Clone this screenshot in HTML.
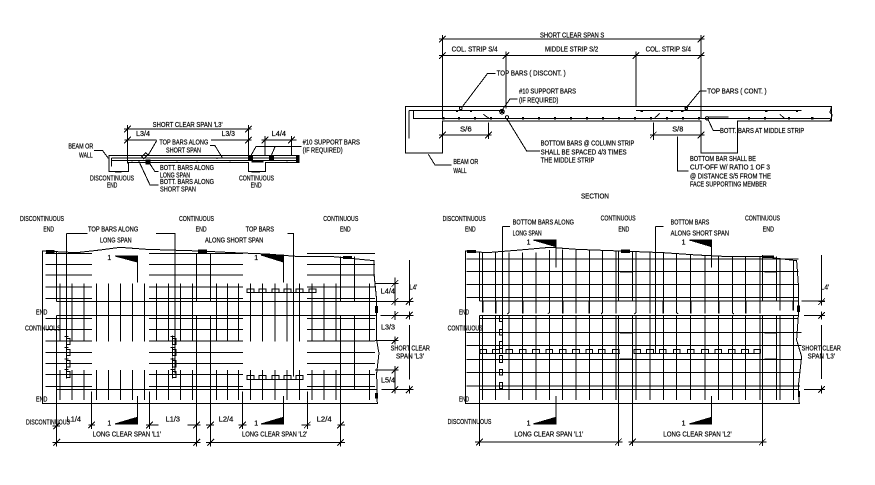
<!DOCTYPE html>
<html><head><meta charset="utf-8"><style>
html,body{margin:0;padding:0;background:#fff;width:875px;height:485px;overflow:hidden}
svg{display:block}
path,polyline,rect,circle{fill:none;stroke:#000;stroke-width:3}
.f{fill:#000}
text{font-family:"Liberation Sans",sans-serif;font-size:21px;fill:#000;stroke:#000;stroke-width:.6}
</style></head><body>
<svg width="875" height="485" viewBox="0 0 875 485" xmlns="http://www.w3.org/2000/svg" shape-rendering="crispEdges">
<defs>
<path id="r" d="M137 0H276M447 0H729M921 0H1125"/>
<path id="bx" d="M0 -6H21V5H0Z"/>
<path id="by" d="M0 0H10V19H0ZM0 -9V22M-6 -5H6"/>
<path id="t" d="M-10 10L10 -10M-10 0H10M0 -12V12"/>
</defs>

<!-- SMALL BEAM -->
<g transform="translate(0,120) scale(.3333)">
<path d="M372 27H755M375 60H470M633 60H755M785 60H890"/>
<path d="M383 27V130M745 27V108M795 60V108M875 60V106"/>
<path d="M327 106H897V128H797V155H745V128H385V155H327Z"/>
<path d="M335 114H890M335 122H890M335 114V140M470 62L445 105M630 77H645L668 115M752 108L768 80H905M812 112L825 80M282 92H308L325 115M445 124L465 155H475M415 120L450 195H475"/>
<path d="M755 125H790M345 156H365M755 155H780" style="stroke-width:4"/>
<path class="f" d="M438 120h12v12h-12zM745 107h12v12h-12zM808 107h12v12h-12zM889 106h8v22h-8z"/>
<path d="M395 123h3M440 123h3M530 123h3M590 123h3M650 115h3M688 123h3M860 123h3M425 110L437 98L443 104L431 116Z"/>
<use href="#t" x="383" y="27"/><use href="#t" x="745" y="27"/><use href="#t" x="383" y="60"/><use href="#t" x="745" y="60"/><use href="#t" x="795" y="60"/><use href="#t" x="875" y="60"/>
<text x="458" y="21" textLength="210" lengthAdjust="spacingAndGlyphs">SHORT CLEAR SPAN 'L3'</text>
<text x="408" y="48" textLength="42" lengthAdjust="spacingAndGlyphs">L3/4</text>
<text x="665" y="48" textLength="40" lengthAdjust="spacingAndGlyphs">L3/3</text>
<text x="815" y="48" textLength="43" lengthAdjust="spacingAndGlyphs">L4/4</text>
<text x="205" y="86" textLength="75" lengthAdjust="spacingAndGlyphs">BEAM OR</text>
<text x="237" y="112" textLength="41" lengthAdjust="spacingAndGlyphs">WALL</text>
<text x="478" y="73" textLength="147" lengthAdjust="spacingAndGlyphs">TOP BARS ALONG</text>
<text x="498" y="98" textLength="105" lengthAdjust="spacingAndGlyphs">SHORT SPAN</text>
<text x="908" y="73" textLength="172" lengthAdjust="spacingAndGlyphs">#10 SUPPORT BARS</text>
<text x="908" y="98" textLength="120" lengthAdjust="spacingAndGlyphs">(IF REQUIRED)</text>
<text x="480" y="150" textLength="162" lengthAdjust="spacingAndGlyphs">BOTT. BARS ALONG</text>
<text x="480" y="172" textLength="90" lengthAdjust="spacingAndGlyphs">LONG SPAN</text>
<text x="480" y="192" textLength="162" lengthAdjust="spacingAndGlyphs">BOTT. BARS ALONG</text>
<text x="480" y="215" textLength="108" lengthAdjust="spacingAndGlyphs">SHORT SPAN</text>
<text x="270" y="181" textLength="132" lengthAdjust="spacingAndGlyphs">DISCONTINUOUS</text>
<text x="321" y="203" textLength="31" lengthAdjust="spacingAndGlyphs">END</text>
<text x="717" y="181" textLength="105" lengthAdjust="spacingAndGlyphs">CONTINUOUS</text>
<text x="752" y="203" textLength="33" lengthAdjust="spacingAndGlyphs">END</text>
</g>

<!-- SECTION -->
<g transform="translate(395,25) scale(.3333)">
<path d="M133 42H927M133 92H927M142 42V280M918 42V280M333 92V250M723 92V245"/>
<path d="M32 244H1310V288H1027V384H918V288H142V384H32Z"/>
<path d="M1310 244L1305 262L1312 270L1305 288"/>
<path d="M42 256H320M723 256H1220M42 256V340M55 258V280H1305"/>
<path d="M940 276H1000" style="stroke-width:4"/>
<path d="M302 145H278L200 248M368 222H345L323 253M935 198H915L870 253M335 280L395 378H435M100 388L120 420H170M940 285L955 317H975M142 292V340M280 292V340M133 330H290M775 292V345M768 330H927M918 320V340M848 335V438H880"/>
<path d="M265 268L282 280M780 278L795 265M1155 268L1168 280"/>
<path class="f" d="M143 278h4v4h-4zM190 278h4v4h-4zM238 278h4v4h-4zM286 278h4v4h-4zM382 278h4v4h-4zM430 278h4v4h-4zM478 278h4v4h-4zM526 278h4v4h-4zM574 278h4v4h-4zM622 278h4v4h-4zM670 278h4v4h-4zM718 278h4v4h-4zM766 278h4v4h-4zM814 278h4v4h-4zM862 278h4v4h-4zM910 278h4v4h-4zM1060 278h4v4h-4zM1108 278h4v4h-4zM1180 278h4v4h-4zM1250 278h4v4h-4zM184 256h4v4h-4zM226 256h4v4h-4zM738 256h4v4h-4zM828 256h4v4h-4zM860 256h4v4h-4zM1112 256h4v4h-4zM1204 256h4v4h-4z"/>
<circle cx="321" cy="260" r="7"/><circle cx="336" cy="277" r="5"/><circle cx="936" cy="280" r="5"/><circle cx="197" cy="250" r="4"/><circle cx="874" cy="250" r="4"/>
<path class="f" d="M318 257h6v6h-6z"/>
<use href="#t" x="142" y="42"/><use href="#t" x="918" y="42"/><use href="#t" x="142" y="92"/><use href="#t" x="333" y="92"/><use href="#t" x="723" y="92"/><use href="#t" x="918" y="92"/><use href="#t" x="142" y="330"/><use href="#t" x="280" y="330"/><use href="#t" x="775" y="330"/><use href="#t" x="918" y="330"/>
<text x="435" y="37" textLength="193" lengthAdjust="spacingAndGlyphs">SHORT CLEAR SPAN S</text>
<text x="170" y="80" textLength="138" lengthAdjust="spacingAndGlyphs">COL. STRIP S/4</text>
<text x="450" y="80" textLength="160" lengthAdjust="spacingAndGlyphs">MIDDLE STRIP S/2</text>
<text x="752" y="80" textLength="136" lengthAdjust="spacingAndGlyphs">COL. STRIP S/4</text>
<text x="305" y="152" textLength="207" lengthAdjust="spacingAndGlyphs">TOP BARS ( DISCONT. )</text>
<text x="372" y="205" textLength="171" lengthAdjust="spacingAndGlyphs">#10 SUPPORT BARS</text>
<text x="372" y="232" textLength="118" lengthAdjust="spacingAndGlyphs">(IF REQUIRED)</text>
<text x="937" y="205" textLength="178" lengthAdjust="spacingAndGlyphs">TOP BARS ( CONT. )</text>
<text x="195" y="320" textLength="35" lengthAdjust="spacingAndGlyphs">S/6</text>
<text x="832" y="320" textLength="33" lengthAdjust="spacingAndGlyphs">S/8</text>
<text x="975" y="324" textLength="253" lengthAdjust="spacingAndGlyphs">BOTT. BARS AT MIDDLE STRIP</text>
<text x="437" y="362" textLength="281" lengthAdjust="spacingAndGlyphs">BOTTOM BARS @ COLUMN STRIP</text>
<text x="437" y="388" textLength="258" lengthAdjust="spacingAndGlyphs">SHALL BE SPACED 4/3 TIMES</text>
<text x="437" y="412" textLength="161" lengthAdjust="spacingAndGlyphs">THE MIDDLE STRIP</text>
<text x="175" y="417" textLength="75" lengthAdjust="spacingAndGlyphs">BEAM OR</text>
<text x="175" y="444" textLength="40" lengthAdjust="spacingAndGlyphs">WALL</text>
<text x="885" y="408" textLength="198" lengthAdjust="spacingAndGlyphs">BOTTOM BAR SHALL BE</text>
<text x="885" y="433" textLength="240" lengthAdjust="spacingAndGlyphs">CUT-OFF W/ RATIO 1 OF 3</text>
<text x="885" y="460" textLength="243" lengthAdjust="spacingAndGlyphs">@ DISTANCE S/5 FROM THE</text>
<text x="885" y="485" textLength="230" lengthAdjust="spacingAndGlyphs">FACE SUPPORTING MEMBER</text>
<text x="558" y="520" textLength="84" lengthAdjust="spacingAndGlyphs">SECTION</text>
</g>

<!-- PLAN A -->
<g transform="translate(0,240) scale(.3333)">
<path d="M127 33L230 38L300 30L360 22L440 28L600 33L700 38L800 42L900 50L1000 50L1122 62V100L1130 180V300L1137 340L1130 400L1132 491H127Z"/>
<use href="#r" y="40"/><use href="#r" y="73"/><use href="#r" y="105"/><use href="#r" y="141"/><use href="#r" y="175"/><use href="#r" y="235"/><use href="#r" y="268"/><use href="#r" y="303"/><use href="#r" y="337"/><use href="#r" y="370"/><use href="#r" y="404"/><use href="#r" y="440"/>
<path d="M170 184H1130M170 226H1130M170 449H1130"/>
<path d="M170 35V184M170 226V612M590 40V184M590 226V612M632 40V184M632 226V612M1022 50V184M1022 226V612M1063 50V184M1063 226V449"/>
<path d="M180 130V305M180 390V480M216 130V305M216 390V480M252 130V305M252 390V480M289 130V305M289 390V480M325 130V305M325 390V480M361 130V305M361 390V480M397 130V305M397 390V480M433 130V305M433 390V480M469 130V305M469 390V480M505 130V305M505 390V480M541 130V305M541 390V480M577 130V305M577 390V480M650 130V305M650 390V480M682 130V305M682 390V480M716 130V305M716 390V480M752 130V305M752 390V480M788 130V305M788 390V480M825 130V305M825 390V480M861 130V305M861 390V480M898 130V305M898 390V480M936 130V305M936 390V480M972 130V305M972 390V480M1008 130V305M1008 390V480M1108 130V305M1108 390V480"/>
<path d="M200 -19H262M200 -19V405M468 -19H525V400M862 -19H880V410"/>
<path d="M412 66V128M850 66V128M412 468V552M850 468V552M275 455V560M448 455V560M728 455V560M922 455V560"/>
<path class="f" d="M345 48H412V66ZM783 45H850V66ZM345 552H412V532ZM783 552H850V532Z"/>
<path d="M742 158H947"/><use href="#bx" x="741" y="153"/><use href="#bx" x="777" y="153"/><use href="#bx" x="816" y="153"/><use href="#bx" x="852" y="153"/><use href="#bx" x="888" y="153"/><use href="#bx" x="927" y="153"/>
<path d="M742 418H911"/><use href="#bx" x="741" y="413"/><use href="#bx" x="777" y="413"/><use href="#bx" x="816" y="413"/><use href="#bx" x="852" y="413"/><use href="#bx" x="888" y="413"/>
<use href="#by" x="200" y="295"/><use href="#by" x="200" y="328"/><use href="#by" x="200" y="362"/><use href="#by" x="200" y="394"/>
<use href="#by" x="518" y="295"/><use href="#by" x="518" y="328"/><use href="#by" x="518" y="362"/><use href="#by" x="518" y="394"/>
<path d="M158 607H602M618 607H1035M158 558H180M265 555H285M440 555H475M562 555H602M618 555H635M715 555H740M905 555H930M1012 555H1035"/>
<use href="#t" x="170" y="607"/><use href="#t" x="590" y="607"/><use href="#t" x="632" y="607"/><use href="#t" x="1022" y="607"/><use href="#t" x="170" y="558"/><use href="#t" x="275" y="555"/><use href="#t" x="448" y="555"/><use href="#t" x="590" y="555"/><use href="#t" x="632" y="555"/><use href="#t" x="728" y="555"/><use href="#t" x="922" y="555"/><use href="#t" x="1022" y="555"/>
<path d="M1228 60V183M1228 255V418M1125 130H1195M1125 184H1240M1142 226H1240M1125 302H1195M1125 390H1195M1145 449H1240M1185 112V195M1185 213V240M1185 295V310M1185 380V460"/>
<use href="#t" x="1185" y="130"/><use href="#t" x="1185" y="184"/><use href="#t" x="1185" y="226"/><use href="#t" x="1185" y="302"/><use href="#t" x="1185" y="390"/><use href="#t" x="1185" y="449"/><use href="#t" x="1228" y="184"/><use href="#t" x="1228" y="226"/><use href="#t" x="1228" y="449"/>
<path class="f" d="M140 32h22v6h-22zM596 30h24v8h-24zM1030 50h24v5h-24zM1127 200h6v18h-6zM1127 460h6v14h-6z"/>
<text x="60" y="-57" textLength="132" lengthAdjust="spacingAndGlyphs">DISCONTINUOUS</text>
<text x="130" y="-25" textLength="32" lengthAdjust="spacingAndGlyphs">END</text>
<text x="537" y="-57" textLength="105" lengthAdjust="spacingAndGlyphs">CONTINUOUS</text>
<text x="587" y="-25" textLength="33" lengthAdjust="spacingAndGlyphs">END</text>
<text x="970" y="-57" textLength="105" lengthAdjust="spacingAndGlyphs">CONTINUOUS</text>
<text x="1020" y="-25" textLength="32" lengthAdjust="spacingAndGlyphs">END</text>
<text x="264" y="-25" textLength="151" lengthAdjust="spacingAndGlyphs">TOP BARS ALONG</text>
<text x="300" y="7" textLength="95" lengthAdjust="spacingAndGlyphs">LONG SPAN</text>
<text x="737" y="-25" textLength="85" lengthAdjust="spacingAndGlyphs">TOP BARS</text>
<text x="615" y="7" textLength="175" lengthAdjust="spacingAndGlyphs">ALONG SHORT SPAN</text>
<text x="322" y="60">1</text><text x="763" y="60">1</text><text x="322" y="556">1</text><text x="763" y="556">1</text>
<text x="108" y="224" textLength="34" lengthAdjust="spacingAndGlyphs">END</text>
<text x="75" y="271" textLength="107" lengthAdjust="spacingAndGlyphs">CONTINUOUS</text>
<text x="108" y="484" textLength="34" lengthAdjust="spacingAndGlyphs">END</text>
<text x="78" y="553" textLength="132" lengthAdjust="spacingAndGlyphs">DISCONTINUOUS</text>
<text x="1142" y="160" textLength="43" lengthAdjust="spacingAndGlyphs">L4/4</text>
<text x="1143" y="268" textLength="42" lengthAdjust="spacingAndGlyphs">L3/3</text>
<text x="1143" y="427" textLength="42" lengthAdjust="spacingAndGlyphs">L5/4</text>
<text x="1228" y="148" textLength="24" lengthAdjust="spacingAndGlyphs">L4'</text>
<text x="1172" y="332" textLength="118" lengthAdjust="spacingAndGlyphs">SHORT CLEAR</text>
<text x="1188" y="356" textLength="84" lengthAdjust="spacingAndGlyphs">SPAN 'L3'</text>
<text x="200" y="545" textLength="43" lengthAdjust="spacingAndGlyphs">L1/4</text>
<text x="497" y="545" textLength="43" lengthAdjust="spacingAndGlyphs">L1/3</text>
<text x="656" y="545" textLength="44" lengthAdjust="spacingAndGlyphs">L2/4</text>
<text x="950" y="545" textLength="45" lengthAdjust="spacingAndGlyphs">L2/4</text>
<text x="278" y="590" textLength="205" lengthAdjust="spacingAndGlyphs">LONG CLEAR SPAN 'L1'</text>
<text x="726" y="590" textLength="196" lengthAdjust="spacingAndGlyphs">LONG CLEAR SPAN 'L2'</text>
</g>

<!-- PLAN B -->
<g transform="translate(430,240) scale(.3333)">
<path d="M106 33L170 38L270 30L360 22L440 28L570 33L700 38L800 45L900 50L1000 50L1100 62L1105 130V230L1100 300L1115 350L1105 440L1108 490H106Z"/>
<path d="M110 57H1105M110 95H1105M110 133H1105M110 173H1105M148 183H1105M148 226H1105M148 236H1105M110 278H1115M110 317H1115M110 358H1115M110 398H1110M110 438H1110M148 449H1105"/>
<path d="M148 35V183M148 226V612M565 35V183M565 226V612M608 35V183M608 226V612M997 45V183M997 226V612M1040 50V183M1040 226V480"/>
<path d="M158 38V183M197 38V183M237 38V183M278 38V183M318 38V183M358 30V183M398 28V183M438 30V183M478 32V183M518 33V183M558 33V183M618 36V183M660 37V183M700 38V183M740 40V183M782 42V183M825 45V183M866 47V183M907 50V183M947 50V183M990 50V183M1050 55V183M1090 60V183M158 226V480M197 226V480M237 226V480M278 226V480M318 226V480M358 226V480M398 226V480M438 226V480M478 226V480M518 226V480M558 226V480M618 226V480M660 226V480M700 226V480M740 226V480M782 226V480M825 226V480M866 226V480M907 226V480M947 226V480M990 226V480M1050 226V480M1090 226V480"/>
<path d="M217 -40H240M217 -40V340M677 -40H700M677 -40V340"/>
<path style="stroke-width:4" d="M158 185V218M197 185V220M278 185V220M318 185V220M398 185V220M438 185V220M478 185V220M558 185V220M660 185V220M700 185V220M782 185V220M825 185V220M866 185V220M947 185V220M990 185V220M1050 185V212M1090 185V212M570 95H606M570 278H606M570 358H606M570 438H606M1003 95H1040M1003 278H1040M1003 358H1040M1003 438H1040"/>
<path d="M237 185V218L232 222M358 185V218L353 222M518 185V218L513 222M618 185V218L613 222M740 185V218L745 222M907 185V218L912 222"/>
<path d="M150 340H570M610 340H992"/>
<path d="M150 340V328H170V340M188 340V328H208V340M228 340V328H248V340M268 340V328H288V340M308 340V328H328V340M348 340V328H368V340M388 340V328H408V340M428 340V328H448V340M468 340V328H488V340M505 340V328H525V340M547 340V328H567V340M612 340V328H632V340M650 340V328H670V340M688 340V328H708V340M730 340V328H750V340M772 340V328H792V340M815 340V328H835V340M855 340V328H875V340M895 340V328H915V340M935 340V328H955V340M972 340V328H992V340"/>
<path d="M208 226H218V245H208ZM208 268H218V285H208ZM208 305H218V325H208ZM208 347H218V367H208ZM208 388H218V405H208ZM208 427H218V445H208Z"/>
<path d="M378 20V83M845 20V83M378 468V552M845 468V552"/>
<path class="f" d="M310 0H378V20ZM778 0H845V20ZM310 552H378V532ZM778 552H845V532Z"/>
<path d="M135 606H578M595 606H1010M1175 45V183M1175 255V417M1115 183H1185M1122 226H1185M1122 448H1185"/>
<use href="#t" x="148" y="606"/><use href="#t" x="565" y="606"/><use href="#t" x="608" y="606"/><use href="#t" x="997" y="606"/><use href="#t" x="1175" y="185"/><use href="#t" x="1175" y="226"/><use href="#t" x="1175" y="448"/>
<path class="f" d="M112 32h24v5h-24zM574 30h24v8h-24zM1000 48h30v5h-30zM1102 198h6v16h-6zM1105 455h4v15h-4z"/>
<text x="38" y="-57" textLength="129" lengthAdjust="spacingAndGlyphs">DISCONTINUOUS</text>
<text x="105" y="-25" textLength="32" lengthAdjust="spacingAndGlyphs">END</text>
<text x="248" y="-47" textLength="184" lengthAdjust="spacingAndGlyphs">BOTTOM BARS ALONG</text>
<text x="248" y="-13" textLength="87" lengthAdjust="spacingAndGlyphs">LONG SPAN</text>
<text x="512" y="-58" textLength="105" lengthAdjust="spacingAndGlyphs">CONTINUOUS</text>
<text x="565" y="-25" textLength="33" lengthAdjust="spacingAndGlyphs">END</text>
<text x="722" y="-47" textLength="116" lengthAdjust="spacingAndGlyphs">BOTTOM BARS</text>
<text x="722" y="-13" textLength="175" lengthAdjust="spacingAndGlyphs">ALONG SHORT SPAN</text>
<text x="945" y="-58" textLength="105" lengthAdjust="spacingAndGlyphs">CONTINUOUS</text>
<text x="998" y="-25" textLength="34" lengthAdjust="spacingAndGlyphs">END</text>
<text x="290" y="14">1</text><text x="755" y="14">1</text><text x="290" y="556">1</text><text x="755" y="556">1</text>
<text x="87" y="224" textLength="30" lengthAdjust="spacingAndGlyphs">END</text>
<text x="53" y="271" textLength="105" lengthAdjust="spacingAndGlyphs">CONTINUOUS</text>
<text x="87" y="484" textLength="30" lengthAdjust="spacingAndGlyphs">END</text>
<text x="53" y="552" textLength="131" lengthAdjust="spacingAndGlyphs">DISCONTINUOUS</text>
<text x="253" y="590" textLength="207" lengthAdjust="spacingAndGlyphs">LONG CLEAR SPAN 'L1'</text>
<text x="700" y="590" textLength="205" lengthAdjust="spacingAndGlyphs">LONG CLEAR SPAN 'L2'</text>
<text x="1172" y="148" textLength="26" lengthAdjust="spacingAndGlyphs">L4'</text>
<text x="1115" y="332" textLength="118" lengthAdjust="spacingAndGlyphs">SHORT CLEAR</text>
<text x="1133" y="356" textLength="82" lengthAdjust="spacingAndGlyphs">SPAN 'L3'</text>
</g>
</svg>
</body></html>
